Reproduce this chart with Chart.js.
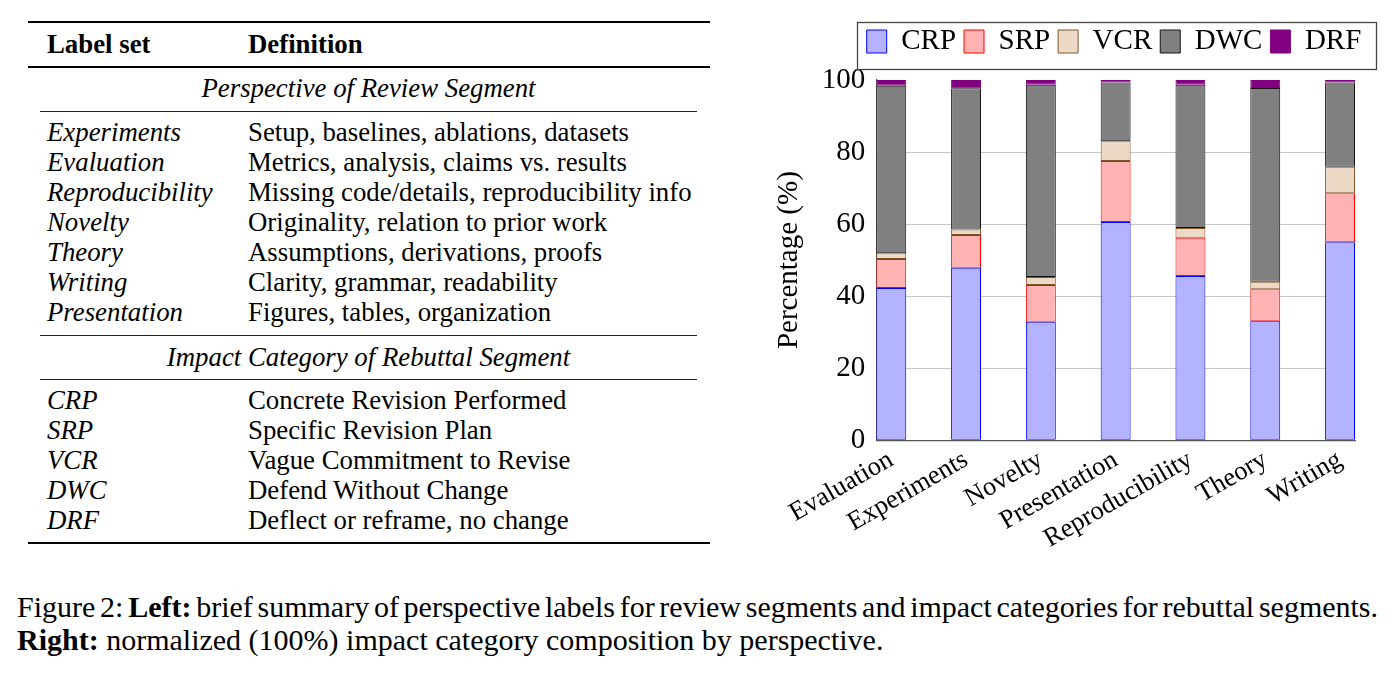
<!DOCTYPE html>
<html><head><meta charset="utf-8">
<script src="https://cdn.jsdelivr.net/npm/chart.js@4.4.1/dist/chart.umd.min.js"></script>
<style>
html,body{margin:0;padding:0;width:1397px;height:675px;overflow:hidden;background:#fff;}
body{position:relative;font-family:"Liberation Serif","Times New Roman",serif;color:#000;}
.t{position:absolute;font-size:26.8px;line-height:30px;white-space:nowrap;}
.cap{position:absolute;font-size:30px;line-height:33px;white-space:nowrap;}
.i{font-style:italic;}
.c{text-align:center;}
.rule{position:absolute;background:#000;}
#wrap{position:absolute;left:740px;top:0px;width:748px;height:575px;}
</style></head><body>
<div id="tbl"></div>
<div class="cap" id="cap1" style="left:17px;top:590px;">Figure 2: <b>Left:</b> brief summary of perspective labels for review segments and impact categories for rebuttal segments.</div>
<div class="cap" style="left:17px;top:623px;"><b>Right:</b> normalized (100%) impact category composition by perspective.</div>
<div id="wrap"><canvas id="c" width="748" height="575"></canvas></div>
<script>
// ---- table content ----
const perspectiveLabels = ["Experiments","Evaluation","Reproducibility","Novelty","Theory","Writing","Presentation"];
const perspectiveDefs = ["Setup, baselines, ablations, datasets","Metrics, analysis, claims vs. results","Missing code/details, reproducibility info","Originality, relation to prior work","Assumptions, derivations, proofs","Clarity, grammar, readability","Figures, tables, organization"];
const impactLabels = ["CRP","SRP","VCR","DWC","DRF"];
const impactDefs = ["Concrete Revision Performed","Specific Revision Plan","Vague Commitment to Revise","Defend Without Change","Deflect or reframe, no change"];

// ---- chart data ----
const categories = ["Evaluation","Experiments","Novelty","Presentation","Reproducibility","Theory","Writing"];
const CRP = [42.3, 47.9, 32.9, 60.6, 45.6, 33.2, 55.0];
const SRP = [8.0, 9.1, 10.2, 16.9, 10.6, 8.7, 13.6];
const VCR = [1.6, 1.5, 2.2, 5.5, 2.7, 2.1, 7.3];
const DWC = [46.5, 39.2, 53.4, 16.3, 39.8, 53.8, 23.4];
const DRF = [1.6, 2.3, 1.3, 0.7, 1.3, 2.2, 0.7];
const yTicks = [0, 20, 40, 60, 80, 100];

// build table
(function(){
  const tbl = document.getElementById('tbl');
  let h = '';
  const rule = (x, y, w, th, col) => `<div class="rule" style="left:${x}px;top:${y}px;width:${w}px;height:${th}px;background:${col||'#000'}"></div>`;
  const txt = (x, cy, s, cls, extra) => `<div class="t ${cls||''}" style="left:${x}px;top:${cy-15}px;${extra||''}">${s}</div>`;
  h += rule(28, 21, 682, 2);
  h += txt(47, 44, '<b>Label set</b>');
  h += txt(248, 44, '<b>Definition</b>');
  h += rule(28, 66, 682, 1.5);
  h += txt(40, 88, 'Perspective of Review Segment', 'i c', 'width:657px;');
  h += rule(40, 111, 657, 1, '#222');
  perspectiveLabels.forEach((l, k) => {
    h += txt(47, 132 + 30*k, l, 'i');
    h += txt(248, 132 + 30*k, perspectiveDefs[k]);
  });
  h += rule(40, 335, 657, 1, '#222');
  h += txt(40, 357, 'Impact Category of Rebuttal Segment', 'i c', 'width:657px;');
  h += rule(40, 379, 657, 1, '#222');
  impactLabels.forEach((l, k) => {
    h += txt(47, 400 + 30*k, l, 'i');
    h += txt(248, 400 + 30*k, impactDefs[k]);
  });
  h += rule(28, 542, 682, 2);
  tbl.innerHTML = h;
  // justify first caption line to the full text width (as in the typeset figure)
  const cap1 = document.getElementById('cap1');
  const natural = cap1.getBoundingClientRect().width;
  const spaces = (cap1.textContent.match(/ /g) || []).length;
  cap1.style.wordSpacing = ((1361 - natural) / spaces).toFixed(2) + 'px';
})();

const serif = '"Liberation Serif","Times New Roman",serif';
const seriesNames = ["CRP","SRP","VCR","DWC","DRF"];
const seriesValues = [CRP, SRP, VCR, DWC, DRF];
const fills = ['rgb(179,179,255)','rgb(255,179,179)','rgb(236,217,198)','rgb(128,128,128)','rgb(128,0,128)'];
const borders = ['rgb(0,0,255)','rgb(255,0,0)','rgb(130,85,45)','rgb(20,20,20)','rgb(128,0,128)'];

const legendBox = {
  id: 'legendBox',
  beforeInit(chart) {
    const lg = chart.legend;
    if (!lg) return;
    const origFit = lg.fit;
    lg.fit = function() { origFit.call(this); this.height += 14; };
  },
  afterDraw(chart) {
    const lg = chart.legend;
    if (!lg || !lg.legendHitBoxes || !lg.legendHitBoxes.length) return;
    let x0 = Infinity, x1 = -Infinity, y0 = Infinity, y1 = -Infinity;
    lg.legendHitBoxes.forEach(b => {
      x0 = Math.min(x0, b.left); x1 = Math.max(x1, b.left + b.width);
      y0 = Math.min(y0, b.top); y1 = Math.max(y1, b.top + b.height);
    });
    const c = chart.ctx;
    c.save();
    c.strokeStyle = '#444';
    c.lineWidth = 1.3;
    c.strokeRect(Math.round(x0 - 10) + 0.5, Math.round(y0 - 5) + 0.5, Math.round(x1 - x0 + 24), Math.round(y1 - y0 + 18));
    c.restore();
  }
};

new Chart(document.getElementById('c'), {
  type: 'bar',
  data: {
    datasets: seriesNames.map((n, k) => ({
      label: n,
      data: seriesValues[k].map((v, i) => ({x: i, y: v})),
      backgroundColor: fills[k],
      borderColor: borders[k],
      borderWidth: 1,
      borderSkipped: false,
      barPercentage: 0.4,
      categoryPercentage: 1.0
    }))
  },
  options: {
    responsive: false,
    animation: false,
    layout: {padding: {top: 19, left: 0, bottom: 16, right: 0}},
    plugins: {
      legend: {
        position: 'top',
        labels: {boxWidth: 20, boxHeight: 23, padding: 8, color: '#000', font: {family: serif, size: 29}}
      },
      tooltip: {enabled: false}
    },
    scales: {
      x: {
        type: 'linear', min: -0.2, max: 6.2, stacked: true, offset: false,
        grid: {display: false, drawTicks: false},
        border: {display: true, color: '#555', width: 1.3},
        afterBuildTicks: s => { s.ticks = categories.map((c, i) => ({value: i})); },
        ticks: {
          autoSkip: false, minRotation: 30, maxRotation: 30, padding: 4, color: '#000',
          font: {family: serif, size: 26.5},
          callback: v => categories[v]
        }
      },
      y: {
        type: 'linear', stacked: true, min: 0, max: 100,
        afterBuildTicks: s => { s.ticks = yTicks.map(v => ({value: v})); },
        grid: {drawTicks: false, color: c => (c.tick && (c.tick.value === 0 || c.tick.value === 100)) ? 'rgba(0,0,0,0)' : '#c8c8c8', lineWidth: 1},
        border: {display: true, color: '#555', width: 1.3},
        ticks: {color: '#000', padding: 11, font: {family: serif, size: 29}},
        title: {display: true, text: 'Percentage (%)', color: '#000', font: {family: serif, size: 29}, padding: {top: 32, bottom: 4}}
      },
      yRight: {
        type: 'linear', axis: 'y', position: 'right', display: true,
        grid: {display: false, drawTicks: false}, border: {display: false},
        ticks: {display: false},
        afterFit: s => { s.width = 133; }
      }
    }
  },
  plugins: [legendBox]
});
</script>
</body></html>
